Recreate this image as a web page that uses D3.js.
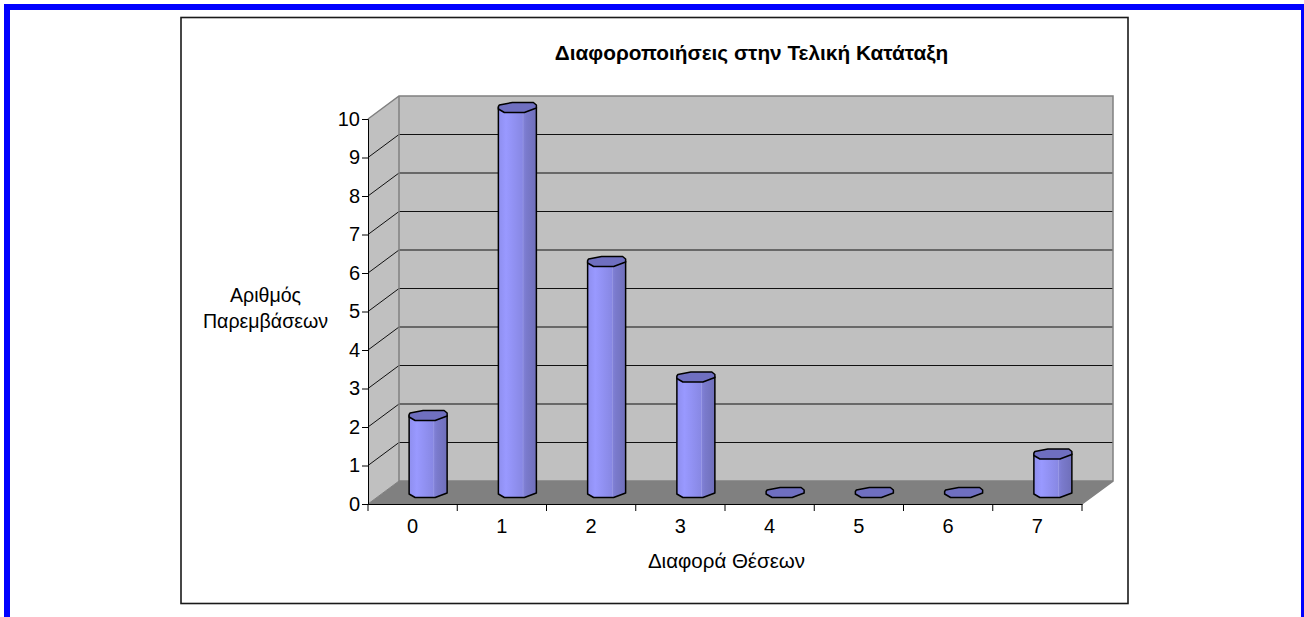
<!DOCTYPE html>
<html>
<head>
<meta charset="utf-8">
<script src="https://cdn.jsdelivr.net/npm/d3@7"></script>
<style>
  html, body { margin: 0; padding: 0; background: #fff; }
  svg { display: block; }
  text { font-family: "Liberation Sans", Arial, sans-serif; fill: #000; }
</style>
</head>
<body>
<svg id="chart" width="1304" height="617"></svg>
<script>
"use strict";

var categories = ["0", "1", "2", "3", "4", "5", "6", "7"];
var values = [2, 10, 6, 3, 0, 0, 0, 1];
var yTicks = [0, 1, 2, 3, 4, 5, 6, 7, 8, 9, 10];
var chartTitle = "Διαφοροποιήσεις στην Τελική Κατάταξη";
var xTitle = "Διαφορά Θέσεων";
var yTitle = ["Αριθμός", "Παρεμβάσεων"];

var depthX = 31, depthY = -23;

var svg = d3.select("#chart");

// blue page frame, open at the bottom
svg.append("path")
  .attr("d", "M7,617V7H1304V617")
  .attr("fill", "none")
  .attr("stroke", "#0000ff")
  .attr("stroke-width", 6);

// chart area
svg.append("rect")
  .attr("x", 181).attr("y", 17.5)
  .attr("width", 947).attr("height", 586)
  .attr("fill", "#fff")
  .attr("stroke", "#1a1a1a")
  .attr("stroke-width", 1.6);

var x = d3.scaleBand().domain(categories).range([368, 1082]);
var y = d3.scaleLinear().domain([0, 10]).range([504, 119]);

var floorY = y(0);
var left = x.range()[0], right = x.range()[1];

// side wall
svg.append("path")
  .attr("d", d3.line()([[left, y(10)], [left + depthX, y(10) + depthY], [left + depthX, floorY + depthY], [left, floorY]]) + "Z")
  .attr("fill", "#c0c0c0");

// back wall
svg.append("rect")
  .attr("x", left + depthX).attr("y", y(10) + depthY)
  .attr("width", right - left).attr("height", floorY - y(10))
  .attr("fill", "#c0c0c0");

// floor
svg.append("path")
  .attr("d", d3.line()([[left, floorY], [left + depthX, floorY + depthY], [right + depthX, floorY + depthY], [right, floorY]]) + "Z")
  .attr("fill", "#808080");

// gridlines
var grid = svg.append("g").attr("fill", "none").attr("stroke", "#111");
yTicks.slice(1, -1).forEach(function(t) {
  grid.append("path")
    .attr("d", d3.line()([[left, y(t)], [left + depthX, y(t) + depthY], [right + depthX, y(t) + depthY]]));
});

// wall edges
svg.append("path")
  .attr("d", d3.line()([[left, y(10)], [left + depthX, y(10) + depthY], [right + depthX, y(10) + depthY], [right + depthX, floorY + depthY], [right, floorY]]))
  .attr("fill", "none").attr("stroke", "#808080").attr("stroke-width", 1.5);
svg.append("path")
  .attr("d", d3.line()([[left, floorY], [left + depthX, floorY + depthY]]))
  .attr("fill", "none").attr("stroke", "#808080");
svg.append("path")
  .attr("d", d3.line()([[left + depthX, y(10) + depthY], [left + depthX, floorY + depthY], [right + depthX, floorY + depthY]]))
  .attr("fill", "none").attr("stroke", "#808080").attr("stroke-width", 1.5);

// gradient of the column body, with the facet step at 65%
var defs = svg.append("defs");
var grad = defs.append("linearGradient").attr("id", "barFill");
[[0, "#8e8eee"], [0.2, "#9999ff"], [0.63, "#8888e4"], [0.65, "#9a9ae6"], [0.67, "#8080d6"], [0.74, "#7a7acc"], [1, "#6f6fba"]].forEach(function(s) {
  grad.append("stop").attr("offset", s[0]).attr("stop-color", s[1]);
});

// octagon of a column cap, relative to its centre
var capTop = [[-19, -1], [-18, -2.5], [-5, -5], [16, -5], [19, -2.5], [19, 0.5], [7, 5], [-13, 5], [-19, 1.5]];
var capFront = [[-19, 1.5], [-13, 5], [7, 5], [19, 0.5]];

var baseY = floorY + depthY / 2;

var bars = svg.append("g").selectAll("g").data(values).enter().append("g")
  .attr("transform", function(d, i) {
    return "translate(" + (x(categories[i]) + x.bandwidth() / 2 + depthX / 2) + "," + baseY + ")";
  });

bars.filter(function(d) { return d > 0; }).append("path")
  .attr("d", function(d) {
    var h = y(0) - y(d);
    return "M-19,0V" + (-h) + "H19V0" + capFront.slice().reverse().map(function(p) { return "L" + p[0] + "," + p[1]; }).join("") + "Z";
  })
  .attr("fill", "url(#barFill)")
  .attr("stroke", "#000")
  .attr("stroke-width", 1.5)
  .attr("stroke-linejoin", "round");

bars.append("path")
  .attr("transform", function(d) { return "translate(0," + (y(d) - y(0)) + ")"; })
  .attr("d", d3.line().curve(d3.curveLinearClosed)(capTop))
  .attr("fill", "#6f6fc0")
  .attr("stroke", "#000")
  .attr("stroke-width", 1.5)
  .attr("stroke-linejoin", "round");

// axes
var yAxis = svg.append("g")
  .attr("transform", "translate(" + left + ",0)")
  .call(d3.axisLeft(y).tickValues(yTicks).tickSize(6).tickPadding(2));
var xAxis = svg.append("g")
  .attr("transform", "translate(0," + floorY + ")")
  .call(d3.axisBottom(x).tickValues([]).tickSize(0));
x.domain().concat("end").forEach(function(c) {
  var px = c === "end" ? right : x(c);
  xAxis.append("line").attr("x1", px).attr("x2", px).attr("y1", 0).attr("y2", 7).attr("stroke", "#000");
});
xAxis.selectAll(".cat").data(categories).enter().append("text")
  .attr("class", "cat")
  .attr("x", function(d) { return x(d) + x.bandwidth() / 2; })
  .attr("y", 29)
  .attr("text-anchor", "middle")
  .text(function(d) { return d; });
svg.selectAll(".domain").attr("stroke", "#000");
svg.selectAll(".tick line").attr("stroke", "#000");
svg.selectAll("g text").style("font-size", "20px").style("font-family", '"Liberation Sans", Arial, sans-serif').attr("fill", "#000");

// titles
svg.append("text")
  .attr("x", 751.5).attr("y", 60)
  .attr("text-anchor", "middle")
  .style("font-size", "20.8px").style("font-weight", "bold")
  .text(chartTitle);
svg.append("text")
  .attr("x", 726.5).attr("y", 568)
  .attr("text-anchor", "middle")
  .style("font-size", "20.5px")
  .text(xTitle);
yTitle.forEach(function(line, i) {
  svg.append("text")
    .attr("x", 265.5).attr("y", 302 + i * 26)
    .attr("text-anchor", "middle")
    .style("font-size", "19.6px")
    .text(line);
});
</script>
</body>
</html>
